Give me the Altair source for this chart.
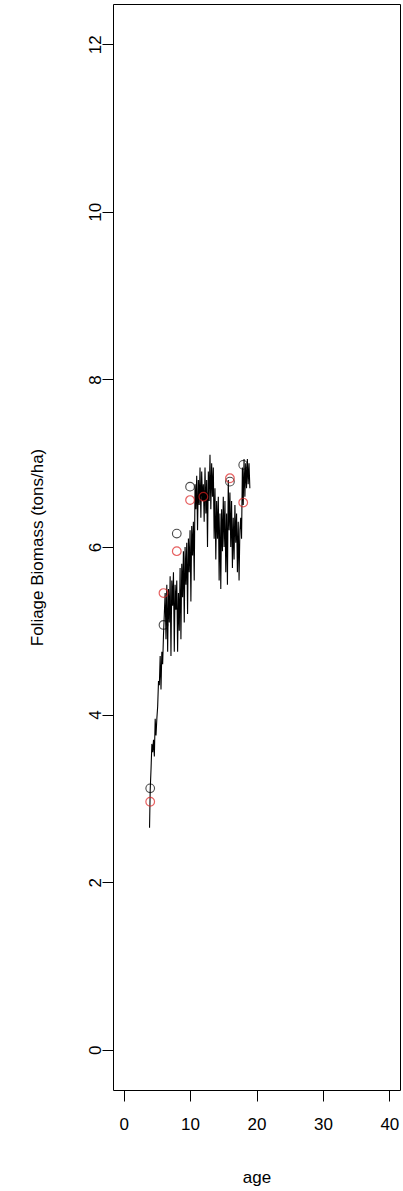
import altair as alt
import pandas as pd

# Simulated foliage biomass trajectory (line)
line_age = [3.9, 4.0, 4.125, 4.25, 4.375, 4.5, 4.625, 4.75, 4.875, 5.0,
            5.125, 5.25, 5.375, 5.5, 5.625, 5.75, 5.875, 6.0, 6.125, 6.25,
            6.375, 6.5, 6.625, 6.75, 6.875, 7.0, 7.125, 7.25, 7.375, 7.5,
            7.625, 7.75, 7.875, 8.0, 8.125, 8.25, 8.375, 8.5, 8.625, 8.75,
            8.875, 9.0, 9.125, 9.25, 9.375, 9.5, 9.625, 9.75, 9.875, 10.0,
            10.125, 10.25, 10.375, 10.5, 10.625, 10.75, 10.875, 11.0, 11.125, 11.25,
            11.375, 11.5, 11.625, 11.75, 11.875, 12.0, 12.125, 12.25, 12.375, 12.5,
            12.625, 12.75, 12.875, 13.0, 13.125, 13.25, 13.375, 13.5, 13.625, 13.75,
            13.875, 14.0, 14.125, 14.25, 14.375, 14.5, 14.625, 14.75, 14.875, 15.0,
            15.125, 15.25, 15.375, 15.5, 15.625, 15.75, 15.875, 16.0, 16.125, 16.25,
            16.375, 16.5, 16.625, 16.75, 16.875, 17.0, 17.125, 17.25, 17.375, 17.5,
            17.625, 17.75, 17.875, 18.0, 18.125, 18.25, 18.375, 18.5, 18.625, 18.75,
            18.875, 19.0]
line_val = [2.65, 3.10, 3.35, 3.65, 3.55, 3.70, 3.50, 3.95, 3.75, 3.95,
            4.10, 4.40, 4.35, 4.70, 4.30, 4.75, 4.60, 4.95, 5.20, 5.45,
            4.90, 5.55, 4.75, 5.50, 5.10, 5.65, 4.70, 5.60, 5.30, 5.70,
            4.75, 5.55, 5.25, 5.60, 4.75, 5.45, 5.00, 5.75, 4.90, 5.80,
            5.40, 5.95, 5.10, 6.00, 5.55, 6.05, 5.20, 6.10, 5.70, 6.20,
            5.35, 6.25, 5.90, 6.30, 5.60, 6.75, 6.45, 6.85, 6.20, 6.80,
            6.50, 6.95, 6.35, 6.90, 6.55, 6.75, 6.30, 6.95, 6.40, 6.80,
            6.00, 6.90, 6.55, 7.10, 6.45, 7.00, 6.60, 6.95, 6.10, 6.70,
            5.85, 6.55, 6.10, 6.60, 5.60, 6.40, 5.50, 6.45, 5.95, 6.60,
            6.00, 6.55, 5.70, 6.40, 5.55, 6.80, 6.20, 6.65, 6.00, 6.55,
            5.75, 6.35, 5.85, 6.50, 6.05, 6.40, 5.70, 6.30, 5.60, 6.20,
            6.35, 6.10, 6.95, 6.50, 7.05, 6.60, 7.00, 6.70, 7.05, 6.75,
            7.00, 6.70]

# Observed points
obs_age = [4, 6, 8, 10, 12, 16, 18]
obs_black = [3.12, 5.07, 6.16, 6.72, 6.62, 6.78, 6.98]
obs_red = [2.96, 5.45, 5.95, 6.56, 6.60, 6.82, 6.53]

line_df = pd.DataFrame({"age": line_age, "biomass": line_val})
black_df = pd.DataFrame({"age": obs_age, "biomass": obs_black})
red_df = pd.DataFrame({"age": obs_age, "biomass": obs_red})

W, H = 287, 1086

xscale = alt.Scale(domain=[-1.6, 41.6], nice=False, zero=False)
yscale = alt.Scale(domain=[-0.48, 12.48], nice=False, zero=False)

xaxis = alt.Axis(values=[0, 10, 20, 30, 40], title="age", labelPadding=23,
                 format="d", labelBaseline="middle", titleY=87,
                 titleBaseline="middle")
yaxis = alt.Axis(values=[0, 2, 4, 6, 8, 10, 12], title="Foliage Biomass (tons/ha)",
                 format="d", labelAngle=270, labelAlign="center",
                 labelBaseline="middle", labelPadding=7, titleX=-76, titleY=H / 2,
                 titleAngle=270, titleAlign="center", titleBaseline="middle")

line = alt.Chart(line_df).mark_line(color="black", strokeWidth=1.1).encode(
    x=alt.X("age:Q", scale=xscale, axis=xaxis),
    y=alt.Y("biomass:Q", scale=yscale, axis=yaxis),
)

pts_black = alt.Chart(black_df).mark_point(
    shape="circle", filled=False, color="black", size=75, strokeWidth=1.1
).encode(x=alt.X("age:Q", scale=xscale), y=alt.Y("biomass:Q", scale=yscale))

pts_red = alt.Chart(red_df).mark_point(
    shape="circle", filled=False, color="#DD1F1F", size=75, strokeWidth=1.2
).encode(x=alt.X("age:Q", scale=xscale), y=alt.Y("biomass:Q", scale=yscale))

chart = (line + pts_black + pts_red).properties(
    width=W, height=H,
    autosize=alt.AutoSizeParams(type="none"),
    padding={"left": 113, "top": 4, "right": 3, "bottom": 101},
    background="white",
).configure_view(
    stroke="black", strokeWidth=1
).configure_axis(
    domain=False, grid=False, tickColor="black", tickSize=11, tickWidth=1,
    labelFont="Liberation Sans", labelFontSize=17, labelColor="black",
    titleFont="Liberation Sans", titleFontSize=17, titleFontWeight="normal",
    titleColor="black",
)

chart.save("out.html", embed_options={"renderer": "svg", "actions": False})
